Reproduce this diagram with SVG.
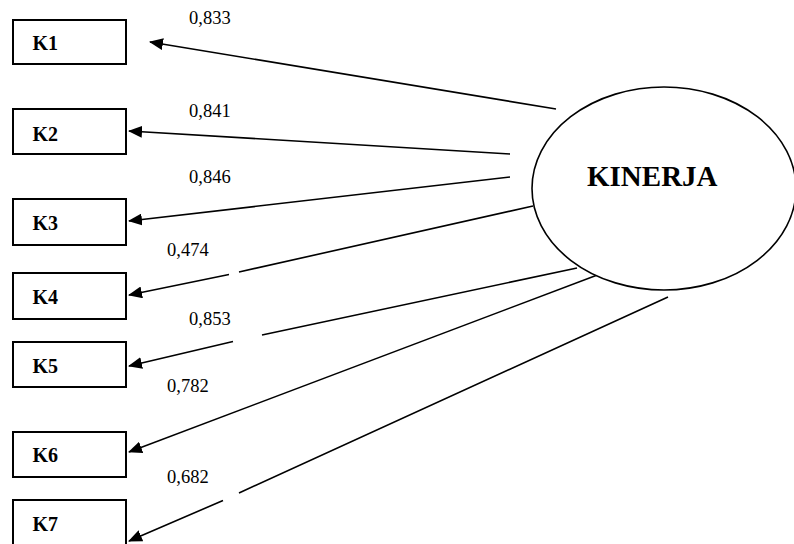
<svg xmlns="http://www.w3.org/2000/svg" width="794" height="544" viewBox="0 0 794 544">
  <style>
    .box { fill: #fff; stroke: #000; stroke-width: 2; }
    .lat { fill: #fff; stroke: #000; stroke-width: 1.6; }
    text { font-family: 'Liberation Serif', 'Times New Roman', Times, 'DejaVu Serif', serif; fill: #000; }
    .ind { font-weight: bold; font-size: 20px; }
    .big { font-weight: bold; font-size: 29px; }
    .val { font-size: 18.5px; }
    .edge { fill: none; stroke: #000; stroke-width: 1.6; marker-end: url(#head); }
  </style>
  <defs>
    <marker id="head" viewBox="0 0 14 12" refX="13" refY="6" markerWidth="14" markerHeight="12" markerUnits="userSpaceOnUse" orient="auto">
      <path d="M0,0 L14,6 L0,12 z" fill="#000"/>
    </marker>
  </defs>

  <!-- loadings from the latent variable to its indicators -->
  <g id="connectors">
    <path class="edge" d="M556,109 L150,42"/>
    <path class="edge" d="M510,154 L129,131"/>
    <path class="edge" d="M510,177 L129,221"/>
    <path class="edge" d="M533,206 L239,272 M229,274.5 L129,295"/>
    <path class="edge" d="M577,268 L262,335 M233,341.5 L129,366"/>
    <path class="edge" d="M600,274 L129,452"/>
    <path class="edge" d="M668,297 L239,493 M223,500.5 L129,541"/>
  </g>

  <g id="labels">
    <text class="val" x="189" y="24">0,833</text>
    <text class="val" x="189" y="117">0,841</text>
    <text class="val" x="189" y="183">0,846</text>
    <text class="val" x="167" y="256">0,474</text>
    <text class="val" x="189" y="325">0,853</text>
    <text class="val" x="167" y="392">0,782</text>
    <text class="val" x="167" y="483">0,682</text>
  </g>

  <g id="kinerja">
    <ellipse class="lat" cx="664" cy="188.5" rx="132" ry="101.5"/>
    <text class="big" x="587" y="186">KINERJA</text>
  </g>

  <g id="k1"><rect class="box" x="13" y="20" width="113" height="44"/><text class="ind" x="32.5" y="49.5">K1</text></g>
  <g id="k2"><rect class="box" x="13" y="109" width="113" height="45"/><text class="ind" x="32.5" y="141">K2</text></g>
  <g id="k3"><rect class="box" x="13" y="199" width="113" height="46"/><text class="ind" x="32.5" y="230">K3</text></g>
  <g id="k4"><rect class="box" x="13" y="273" width="113" height="46"/><text class="ind" x="32.5" y="304">K4</text></g>
  <g id="k5"><rect class="box" x="13" y="342" width="113" height="45"/><text class="ind" x="32.5" y="373">K5</text></g>
  <g id="k6"><rect class="box" x="13" y="432" width="113" height="45"/><text class="ind" x="32.5" y="462">K6</text></g>
  <g id="k7"><rect class="box" x="13" y="500" width="113" height="46"/><text class="ind" x="32.5" y="531">K7</text></g>
</svg>
